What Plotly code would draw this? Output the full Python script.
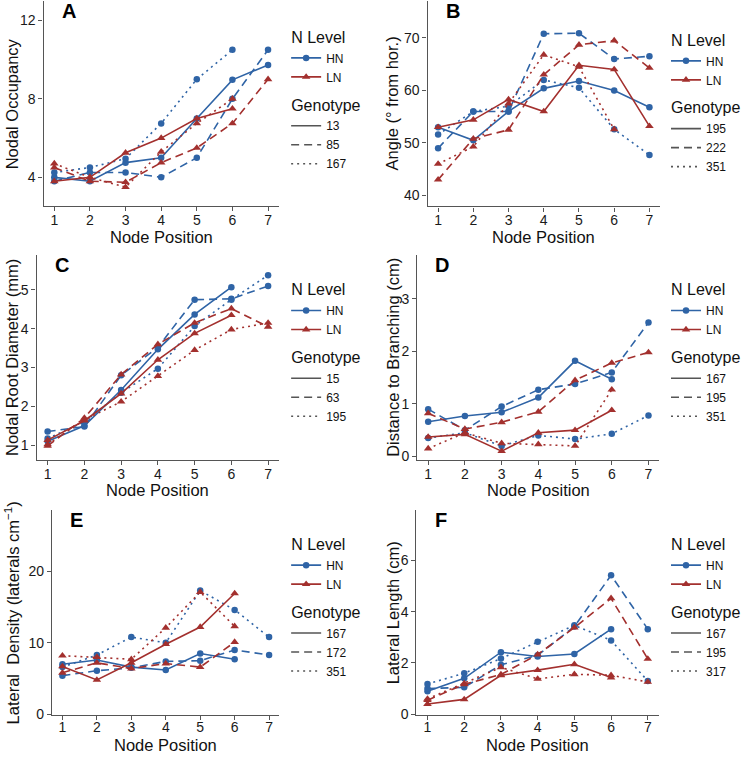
import plotly.graph_objects as go

node = [1, 2, 3, 4, 5, 6, 7]

# Panel A - Nodal Occupancy (genotypes 13, 85, 167)
A_geno = ["13", "85", "167"]
A_HN = [[4.0, 3.8, 4.75, 5.0, 7.0, 8.97, 9.73],
        [3.8, 4.25, 4.25, 4.0, 5.0, 8.0, 10.5],
        [4.25, 4.5, 4.95, 6.75, 9.0, 10.5, None]]
A_LN = [[3.8, 4.0, 5.25, 6.0, 7.0, 7.5, None],
        [4.5, 3.8, 3.75, 4.75, 5.5, 6.75, 9.0],
        [4.7, 4.0, 3.5, 5.3, 6.75, 8.0, None]]

# Panel B - Angle (genotypes 195, 222, 351)
B_geno = ["195", "222", "351"]
B_HN = [[53.0, 50.5, 56.0, 60.4, 61.8, 60.0, 56.8],
        [49.0, 56.0, 56.0, 70.8, 70.9, 66.0, 66.5],
        [51.6, 56.0, 57.0, 62.0, 60.5, 52.6, 47.7]]
B_LN = [[53.0, 54.4, 58.3, 56.0, 64.8, 64.0, 53.2],
        [43.0, 50.8, 52.5, 63.0, 68.7, 69.5, 64.3],
        [46.0, 49.3, 57.5, 66.8, 64.5, 52.6, None]]

# Panel C - Nodal Root Diameter (genotypes 15, 63, 195)
C_geno = ["15", "63", "195"]
C_HN = [[1.1, 1.5, 2.42, 3.47, 4.37, 5.07, None],
        [1.35, 1.48, 2.8, 3.52, 4.75, 4.77, 5.1],
        [1.17, 1.6, 2.35, 2.97, 4.07, 4.75, 5.38]]
C_LN = [[1.13, 1.63, 2.33, 3.2, 3.88, 4.35, None],
        [0.98, 1.7, 2.82, 3.6, 4.15, 4.52, 4.05],
        [1.02, 1.65, 2.12, 2.78, 3.45, 3.98, 4.15]]

# Panel D - Distance to Branching (genotypes 167, 195, 351)
D_geno = ["167", "195", "351"]
D_HN = [[0.66, 0.77, 0.84, 1.12, 1.82, 1.47, None],
        [0.9, 0.5, 0.95, 1.27, 1.38, 1.6, 2.55],
        [0.35, 0.45, 0.2, 0.4, 0.33, 0.43, 0.78]]
D_LN = [[0.37, 0.42, 0.1, 0.45, 0.5, 0.88, None],
        [0.82, 0.52, 0.65, 0.85, 1.45, 1.78, 1.98],
        [0.15, 0.45, 0.25, 0.23, 0.2, 1.27, None]]

# Panel E - Lateral Density (genotypes 167, 172, 351)
E_geno = ["167", "172", "351"]
E_HN = [[7.0, 7.6, 6.6, 6.2, 8.5, 7.7, None],
        [5.4, 6.1, 6.5, 7.4, 7.5, 9.0, 8.3],
        [6.6, 8.3, 10.8, 10.0, 17.3, 14.6, 10.8]]
E_LN = [[6.7, 4.8, 7.2, 9.8, 12.2, 16.9, None],
        [5.8, 7.2, 6.4, 7.1, 6.6, 10.1, None],
        [8.2, 8.0, 7.7, 12.1, 17.1, 12.3, None]]

# Panel F - Lateral Length (genotypes 167, 195, 317)
F_geno = ["167", "195", "317"]
F_HN = [[0.9, 1.4, 2.42, 2.25, 2.35, 3.32, None],
        [1.0, 1.05, 1.93, 2.3, 3.42, 5.42, 3.32],
        [1.18, 1.6, 2.17, 2.83, 3.47, 2.88, 1.3]]
F_LN = [[0.4, 0.58, 1.52, 1.72, 1.95, 1.43, None],
        [0.55, 1.17, 1.55, 2.33, 3.38, 4.52, 2.16],
        [0.6, 1.2, 1.83, 1.38, 1.56, 1.52, 1.26]]

W, H = 751, 757
FONT = "Liberation Sans, Arial, sans-serif"
BLUE = "#2F64A6"
RED = "#A3302E"
GREY = "#555555"
DASHES = ["solid", "8px,5px", "2px,4px"]
LW = 1.6

# panel geometry in pixels: (x_left, x_right, y_top, y_bottom), y-title x centre, x-title y centre
panels = [
    dict(letter="A", geno=A_geno, HN=A_HN, LN=A_LN, title="Nodal Occupancy",
         px=(44.2, 282.5, 1, 208), yr=[2.535, 12.99], ticks=[4, 8, 12],
         leg=(290, 100), ytx=12, xty=239, tso=-3),
    dict(letter="B", geno=B_geno, HN=B_HN, LN=B_LN, title="Angle (° from hor.)",
         px=(433.3, 668.9, 1, 208.3), yr=[37.92, 77.04], ticks=[40, 50, 60, 70],
         leg=(675, 103), ytx=397, xty=239, tso=-3),
    dict(letter="C", geno=C_geno, HN=C_HN, LN=C_LN, title="Nodal Root Diameter (mm)",
         px=(37.1, 282.9, 257, 464), yr=[0.625, 5.91], ticks=[1, 2, 3, 4, 5],
         leg=(290, 355), ytx=12, xty=495, tso=-3),
    dict(letter="D", geno=D_geno, HN=D_HN, LN=D_LN, title="Distance to Branching (cm)",
         px=(422.8, 668.4, 257, 464), yr=[-0.063, 3.843], ticks=[0, 1, 2, 3],
         leg=(675, 355), ytx=398, xty=495, tso=-3),
    dict(letter="E", geno=E_geno, HN=E_HN, LN=E_LN,
         title="Lateral\u00a0 Density (laterals cm<sup>\u22121</sup>)",
         px=(52.8, 283.2, 515, 721.7), yr=[-0.1, 28.54], ticks=[0, 10, 20],
         leg=(290, 612), ytx=12, xty=751.5, tso=-5),
    dict(letter="F", geno=F_geno, HN=F_HN, LN=F_LN, title="Lateral Length (cm)",
         px=(422.1, 667.7, 515, 721.7), yr=[-0.03, 7.957], ticks=[0, 2, 4, 6],
         leg=(675, 612), ytx=398, xty=751.5, tso=-5),
]

fig = go.Figure()
layout = dict(
    width=W, height=H, margin=dict(l=0, r=0, t=0, b=0),
    paper_bgcolor="white", plot_bgcolor="white",
    font=dict(family=FONT, color="#1a1a1a"),
    annotations=[],
)

TITLE_FONT = dict(size=16.5, family=FONT, color="#111")

for i, p in enumerate(panels):
    n = i + 1
    xa = "x" if n == 1 else f"x{n}"
    ya = "y" if n == 1 else f"y{n}"
    lg = "legend" if n == 1 else f"legend{n}"
    x0, x1, yt, yb = p["px"]
    dom_x = [x0 / W, x1 / W]
    dom_y = [1 - yb / H, 1 - yt / H]

    for N, vals, color, sym, msize in (("HN", p["HN"], BLUE, "circle", 6.5),
                                        ("LN", p["LN"], RED, "triangle-up", 7.5)):
        for g, (gname, ys) in enumerate(zip(p["geno"], vals)):
            fig.add_trace(go.Scatter(
                x=node, y=ys, mode="lines+markers", xaxis=xa, yaxis=ya,
                line=dict(color=color, width=LW, dash=DASHES[g]),
                marker=dict(color=color, symbol=sym, size=msize),
                showlegend=False, name=f"{N} {gname}", hoverinfo="x+y+name",
            ))
    # legend entries (N Level)
    for N, color, sym, msize in (("HN", BLUE, "circle", 6.5), ("LN", RED, "triangle-up", 7.5)):
        fig.add_trace(go.Scatter(
            x=[None], y=[None], mode="lines+markers", xaxis=xa, yaxis=ya,
            line=dict(color=color, width=LW), marker=dict(color=color, symbol=sym, size=msize),
            name=N, legend=lg, legendgroup=f"N{n}",
            legendgrouptitle=dict(text="N Level", font=dict(size=16, family=FONT, color="#111")),
        ))
    # legend entries (Genotype)
    for g, gname in enumerate(p["geno"]):
        fig.add_trace(go.Scatter(
            x=[None], y=[None], mode="lines", xaxis=xa, yaxis=ya,
            line=dict(color=GREY, width=LW, dash=DASHES[g]),
            name=gname, legend=lg, legendgroup=f"G{n}",
            legendgrouptitle=dict(text="Genotype", font=dict(size=16, family=FONT, color="#111")),
        ))

    lx, lcy = p["leg"]
    layout[lg] = dict(
        x=lx / W, y=1 - lcy / H, xanchor="left", yanchor="middle",
        bgcolor="rgba(0,0,0,0)", borderwidth=0, tracegroupgap=6,
        traceorder="grouped", font=dict(size=12, family=FONT, color="#111"),
        itemwidth=30,
    )

    layout["xaxis" if n == 1 else f"xaxis{n}"] = dict(
        domain=dom_x, anchor=ya, range=[0.7, 7.3], tickvals=node,
        showline=True, linecolor="#555555", linewidth=1.3, ticks="outside",
        ticklen=4, tickcolor="#555555", showgrid=False, zeroline=False,
        ticklabelstandoff=p["tso"],
        tickfont=dict(size=14, family=FONT, color="#1a1a1a"),
    )
    layout["yaxis" if n == 1 else f"yaxis{n}"] = dict(
        domain=dom_y, anchor=xa, range=p["yr"], tickvals=p["ticks"],
        showline=True, linecolor="#555555", linewidth=1.3, ticks="outside",
        ticklen=4, tickcolor="#555555", showgrid=False, zeroline=False,
        tickfont=dict(size=14, family=FONT, color="#1a1a1a"),
    )
    # axis titles
    layout["annotations"].append(dict(
        text="Node Position", xref="paper", yref="paper",
        x=(x0 + x1) / 2 / W, y=1 - p["xty"] / H, xanchor="center", yanchor="middle",
        showarrow=False, font=TITLE_FONT,
    ))
    layout["annotations"].append(dict(
        text=p["title"], xref="paper", yref="paper", textangle=-90,
        x=p["ytx"] / W, y=1 - (yt + yb) / 2 / H, xanchor="center", yanchor="middle",
        showarrow=False, font=TITLE_FONT,
    ))
    # panel letter
    layout["annotations"].append(dict(
        text=f"<b>{p['letter']}</b>", xref="paper", yref="paper",
        x=(x0 + 16.5) / W, y=1 - (yt - 3) / H, xanchor="left", yanchor="top",
        showarrow=False, font=dict(size=20, family=FONT, color="black"),
    ))

fig.update_layout(**layout)
fig.write_html("out.html", config={"displayModeBar": False},
               post_script="document.body.style.margin='0px';")
